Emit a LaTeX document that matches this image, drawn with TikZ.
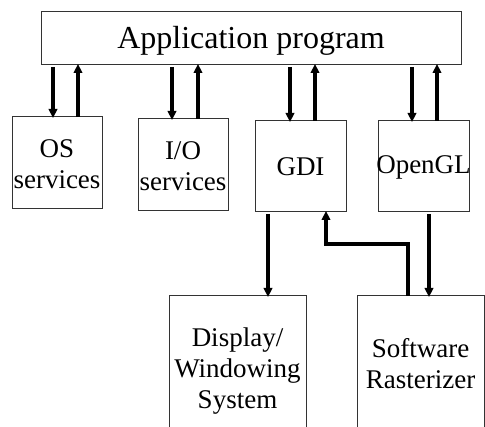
\documentclass[tikz,border=0pt]{standalone}
\usepackage{fontspec}
\setmainfont{Liberation Serif}
\usetikzlibrary{arrows.meta}
\begin{document}
\begin{tikzpicture}[x=1pt,y=-1pt,
  box/.style={draw=black!80,line width=1pt,inner sep=0pt,minimum width=0pt},
  lbl/.style={font=\fontsize{27}{31}\selectfont,align=center,inner sep=0pt},
  arr/.style={line width=3.3pt,-{Triangle[length=9pt,width=8.5pt]},shorten >=-1pt}]
\useasboundingbox (0,0) rectangle (485,427);
\begin{scope}
\clip (0,0) rectangle (485,427);
% boxes
\draw[box] (41,12) rectangle (461,65);
\draw[box] (12,117) rectangle (102,209);
\draw[box] (138,119) rectangle (228,211);
\draw[box] (255,121) rectangle (346,212);
\draw[box] (378,121) rectangle (469,212);
\draw[box] (169,296) rectangle (306,440);
\draw[box] (357,296) rectangle (484,440);
\end{scope}
% labels
\node[lbl,font=\fontsize{32}{36}\selectfont] (app) at (251,41) {Application program};
\node[lbl] (os) at (57,164) {OS\\services};
\node[lbl] (io) at (183,166) {I/O\\services};
\node[lbl] (gdi) at (300.5,167) {GDI};
\node[lbl] (ogl) at (423.5,167) {OpenGL};
\node[lbl] (disp) at (237.5,371) {Display/\\Windowing\\System};
\node[lbl] (soft) at (420.5,364) {Software\\Rasterizer};
% coordinates for connectors
\coordinate (a1) at (53,67);  \coordinate (b1) at (53,117);
\coordinate (a2) at (78,117); \coordinate (b2) at (78,65);
\coordinate (a3) at (172,67); \coordinate (b3) at (172,119);
\coordinate (a4) at (198,119);\coordinate (b4) at (198,65);
\coordinate (a5) at (290,67); \coordinate (b5) at (290,121);
\coordinate (a6) at (315,121);\coordinate (b6) at (315,65);
\coordinate (a7) at (412,67); \coordinate (b7) at (412,121);
\coordinate (a8) at (437,121);\coordinate (b8) at (437,65);
\coordinate (a9) at (268,214); \coordinate (b9) at (268,296);
\coordinate (a10) at (429,214); \coordinate (b10) at (429,296);
\coordinate (c1) at (408,296); \coordinate (c2) at (408,244);
\coordinate (c3) at (326,244); \coordinate (c4) at (326,212);
\draw[arr] (a1) -- (b1);
\draw[arr] (a2) -- (b2);
\draw[arr] (a3) -- (b3);
\draw[arr] (a4) -- (b4);
\draw[arr] (a5) -- (b5);
\draw[arr] (a6) -- (b6);
\draw[arr] (a7) -- (b7);
\draw[arr] (a8) -- (b8);
\draw[arr] (a9) -- (b9);
\draw[arr] (a10) -- (b10);
\draw[arr] (c1) -- (c2) -- (c3) -- (c4);
\end{tikzpicture}
\end{document}
